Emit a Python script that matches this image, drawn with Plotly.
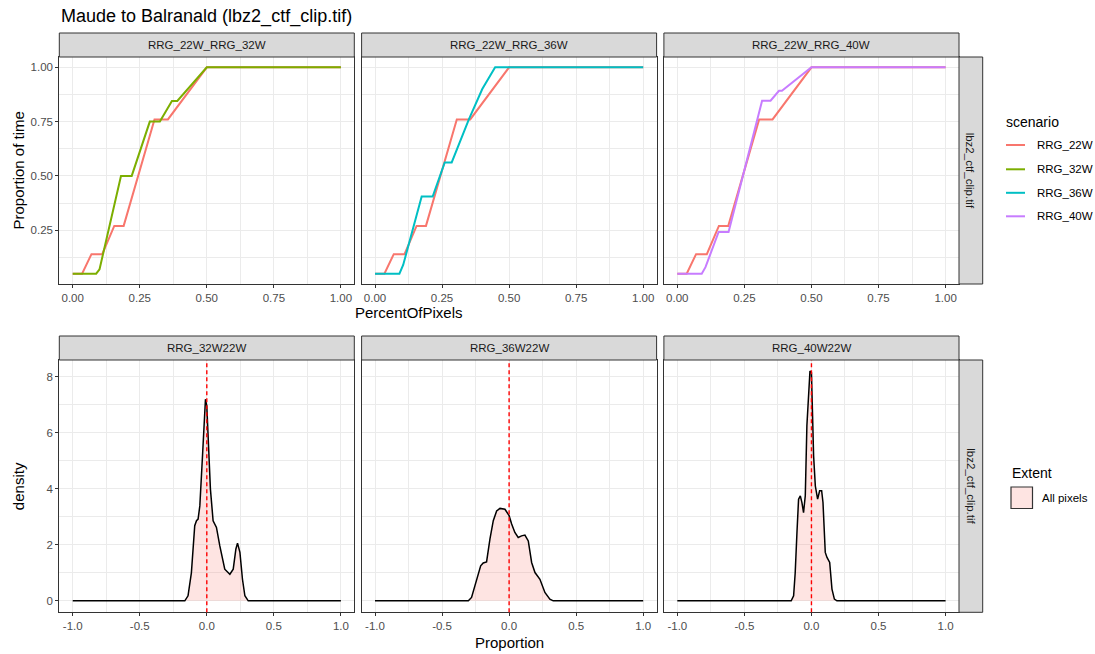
import plotly.graph_objects as go

# ---------------- data ----------------
title_text = "Maude to Balranald (lbz2_ctf_clip.tif)"
top_facets = ["RRG_22W_RRG_32W", "RRG_22W_RRG_36W", "RRG_22W_RRG_40W"]
bottom_facets = ["RRG_32W22W", "RRG_36W22W", "RRG_40W22W"]
row_strip = "lbz2_ctf_clip.tif"
scenarios = ["RRG_22W", "RRG_32W", "RRG_36W", "RRG_40W"]
scenario_colors = ["#F8766D", "#7CAE00", "#00BFC4", "#C77CFF"]

# cumulative curves: PercentOfPixels vs Proportion of time
x_22W = [0.0, 0.035, 0.07, 0.11, 0.155, 0.19, 0.305, 0.355, 0.5, 1.0]
y_22W = [0.05, 0.05, 0.14, 0.14, 0.27, 0.27, 0.76, 0.76, 1.0, 1.0]

x_32W = [0.0, 0.0875, 0.1, 0.18, 0.22, 0.2875, 0.325, 0.37, 0.39, 0.5, 1.0]
y_32W = [0.05, 0.05, 0.07, 0.5, 0.5, 0.75, 0.75, 0.845, 0.845, 1.0, 1.0]

x_36W = [0.0, 0.091, 0.105, 0.174, 0.215, 0.26, 0.286, 0.35, 0.40, 0.448, 1.0]
y_36W = [0.05, 0.05, 0.09, 0.405, 0.405, 0.562, 0.562, 0.76, 0.9, 1.0, 1.0]

x_40W = [0.0, 0.091, 0.105, 0.154, 0.191, 0.316, 0.3475, 0.379, 0.39, 0.5, 1.0]
y_40W = [0.05, 0.05, 0.08, 0.242, 0.242, 0.846, 0.846, 0.892, 0.892, 1.0, 1.0]

# densities of Proportion differences
dx_32W22W = [-1.0, -0.164, -0.14, -0.115, -0.09, -0.077, -0.065, -0.052, -0.032, -0.02, -0.01,
             0.0, 0.015, 0.027, 0.047, 0.072, 0.097, 0.134, 0.172, 0.197, 0.217, 0.229,
             0.247, 0.266, 0.284, 0.309, 1.0]
dy_32W22W = [0, 0, 0.18, 1.0, 2.68, 2.86, 2.92, 3.39, 5.18, 6.49, 7.2,
             6.96, 5.54, 3.99, 2.86, 2.62, 1.96, 1.13, 0.95, 1.13, 1.85, 2.06,
             1.73, 0.77, 0.18, 0, 0]

dx_36W22W = [-1.0, -0.304, -0.28, -0.242, -0.212, -0.193, -0.168, -0.143, -0.118, -0.093,
             -0.068, -0.031, 0.0, 0.019, 0.043, 0.068, 0.093, 0.118, 0.143, 0.168, 0.193,
             0.23, 0.267, 0.304, 0.329, 1.0]
dy_36W22W = [0, 0, 0.12, 0.77, 1.25, 1.35, 1.39, 2.2, 2.86, 3.21,
             3.30, 3.27, 3.04, 2.74, 2.44, 2.26, 2.32, 2.35, 2.14, 1.37, 1.01,
             0.77, 0.30, 0.06, 0, 0]

dx_40W22W = [-1.0, -0.151, -0.133, -0.121, -0.108, -0.096, -0.083, -0.071, -0.059, -0.046,
             -0.034, -0.021, -0.011, 0.0, 0.007, 0.016, 0.029, 0.046, 0.061, 0.076, 0.086,
             0.103, 0.116, 0.136, 0.153, 0.171, 0.19, 1.0]
dy_40W22W = [0, 0, 0.18, 1.01, 2.44, 3.63, 3.75, 3.51, 3.15, 3.75,
             6.25, 7.56, 8.21, 8.15, 6.96, 5.18, 4.1, 3.63, 3.93, 3.93, 3.51,
             1.73, 1.55, 1.37, 0.42, 0.06, 0, 0]

vline_x = 0.0
extent_label = "All pixels"

# ---------------- layout helpers ----------------
W, H = 1095, 654
def fx(p):
    return p / W
def fy(p):
    return 1 - p / H

cols = [(59.3, 354.3), (361.6, 656.6), (663.9, 959.0)]
rows = [(57.0, 284.0), (360.0, 612.3)]
strip_h = 24.0
rstrip = (959.0, 982.7)

FONT = "Liberation Sans, Arial, sans-serif"
GRID = "#EBEBEB"
BORDER = "#333333"
TICKC = "#4D4D4D"
SMALL = 11.5

fig = go.Figure()

top_series = [(x_32W, y_32W, 1), (x_36W, y_36W, 2), (x_40W, y_40W, 3)]
for i, (xs, ys, ci) in enumerate(top_series):
    ax = "" if i == 0 else str(i + 1)
    fig.add_trace(go.Scatter(x=x_22W, y=y_22W, mode="lines", xaxis="x" + ax, yaxis="y" + ax,
                             line=dict(color=scenario_colors[0], width=2), showlegend=False,
                             hoverinfo="skip"))
    fig.add_trace(go.Scatter(x=xs, y=ys, mode="lines", xaxis="x" + ax, yaxis="y" + ax,
                             line=dict(color=scenario_colors[ci], width=2), showlegend=False,
                             hoverinfo="skip"))

dens = [(dx_32W22W, dy_32W22W), (dx_36W22W, dy_36W22W), (dx_40W22W, dy_40W22W)]
for i, (xs, ys) in enumerate(dens):
    ax = str(i + 4)
    fig.add_trace(go.Scatter(x=xs, y=ys, mode="lines", xaxis="x" + ax, yaxis="y" + ax,
                             fill="tozeroy", fillcolor="rgba(248,118,109,0.2)",
                             line=dict(color="black", width=1.5), showlegend=False,
                             hoverinfo="skip"))

layout = dict(
    width=W, height=H, margin=dict(l=0, r=0, t=0, b=0),
    paper_bgcolor="white", plot_bgcolor="white",
    font=dict(family=FONT, color="#1A1A1A"),
    showlegend=False,
)

def xaxis_common(rng, dtick, mdtick, anchor, dom):
    return dict(domain=[fx(dom[0]), fx(dom[1])], range=rng, anchor=anchor,
                tick0=0, dtick=dtick,
                showgrid=True, gridcolor=GRID, gridwidth=1,
                minor=dict(dtick=mdtick, tick0=0, showgrid=True, gridcolor=GRID, gridwidth=0.6),
                showline=True, mirror=True, linecolor=BORDER, linewidth=1,
                ticks="outside", ticklen=3, tickwidth=1, tickcolor=BORDER,
                tickfont=dict(family=FONT, size=SMALL, color=TICKC),
                zeroline=False, fixedrange=True)

def yaxis_common(rng, tickvals, ticktext, mdtick, anchor, dom, show):
    d = dict(domain=[fy(dom[1]), fy(dom[0])], range=rng, anchor=anchor,
             tickvals=tickvals, ticktext=ticktext,
             showgrid=True, gridcolor=GRID, gridwidth=1,
             minor=dict(dtick=mdtick, tick0=0, showgrid=True, gridcolor=GRID, gridwidth=0.6),
             showline=True, mirror=True, linecolor=BORDER, linewidth=1,
             zeroline=False, fixedrange=True,
             tickfont=dict(family=FONT, size=SMALL, color=TICKC))
    if show:
        d.update(ticks="outside", ticklen=3, tickwidth=1, tickcolor=BORDER, showticklabels=True)
    else:
        d.update(ticks="", showticklabels=False)
    return d

top_ticks = [0.25, 0.5, 0.75, 1.0]
top_ticktext = ["0.25", "0.50", "0.75", "1.00"]
top_xticks = [0.0, 0.25, 0.5, 0.75, 1.0]
bot_ticks = [0, 2, 4, 6, 8]

for i in range(3):
    n = i + 1
    xk = "xaxis" if n == 1 else "xaxis%d" % n
    yk = "yaxis" if n == 1 else "yaxis%d" % n
    xa = xaxis_common([-0.05, 1.05], 0.25, 0.125, "y" if n == 1 else "y%d" % n, cols[i])
    xa.update(tickvals=top_xticks, ticktext=["0.00", "0.25", "0.50", "0.75", "1.00"])
    layout[xk] = xa
    layout[yk] = yaxis_common([0.0025, 1.0475], top_ticks, top_ticktext, 0.125,
                              "x" if n == 1 else "x%d" % n, rows[0], i == 0)
for i in range(3):
    n = i + 4
    xa = xaxis_common([-1.1, 1.1], 0.5, 0.25, "y%d" % n, cols[i])
    xa.update(tickvals=[-1.0, -0.5, 0.0, 0.5, 1.0], ticktext=["-1.0", "-0.5", "0.0", "0.5", "1.0"])
    layout["xaxis%d" % n] = xa
    layout["yaxis%d" % n] = yaxis_common([-0.41, 8.6], bot_ticks, [str(t) for t in bot_ticks], 1,
                                         "x%d" % n, rows[1], i == 0)

fig.update_layout(**layout)

shapes = []
annotations = []

# strips
for r, labels in enumerate([top_facets, bottom_facets]):
    y0, y1 = rows[r]
    for i, lab in enumerate(labels):
        x0, x1 = cols[i]
        shapes.append(dict(type="rect", xref="paper", yref="paper",
                           x0=fx(x0), x1=fx(x1), y0=fy(y0 - strip_h), y1=fy(y0),
                           fillcolor="#D9D9D9", line=dict(color=BORDER, width=1), layer="above"))
        annotations.append(dict(text=lab, xref="paper", yref="paper",
                                x=fx((x0 + x1) / 2), y=fy(y0 - strip_h / 2),
                                showarrow=False, xanchor="center", yanchor="middle",
                                font=dict(family=FONT, size=SMALL, color="#1A1A1A")))
    shapes.append(dict(type="rect", xref="paper", yref="paper",
                       x0=fx(rstrip[0]), x1=fx(rstrip[1]), y0=fy(y1), y1=fy(y0),
                       fillcolor="#D9D9D9", line=dict(color=BORDER, width=1), layer="above"))
    annotations.append(dict(text=row_strip, xref="paper", yref="paper",
                            x=fx((rstrip[0] + rstrip[1]) / 2), y=fy((y0 + y1) / 2),
                            showarrow=False, textangle=90, xanchor="center", yanchor="middle",
                            font=dict(family=FONT, size=SMALL, color="#1A1A1A")))

# vertical dashed reference lines
for i in range(3):
    n = i + 4
    shapes.append(dict(type="line", xref="x%d" % n, yref="y%d domain" % n,
                       x0=vline_x, x1=vline_x, y0=0, y1=1,
                       line=dict(color="#FF0000", width=1.4, dash="4px,3px"), layer="above"))

# title and axis titles
annotations.append(dict(text=title_text, xref="paper", yref="paper", x=fx(59), y=fy(17),
                        showarrow=False, xanchor="left", yanchor="middle",
                        font=dict(family=FONT, size=18, color="#000000")))
annotations.append(dict(text="Proportion of time", xref="paper", yref="paper", x=fx(18),
                        y=fy((rows[0][0] + rows[0][1]) / 2), showarrow=False, textangle=-90,
                        xanchor="center", yanchor="middle",
                        font=dict(family=FONT, size=15, color="#000000")))
annotations.append(dict(text="density", xref="paper", yref="paper", x=fx(18),
                        y=fy((rows[1][0] + rows[1][1]) / 2), showarrow=False, textangle=-90,
                        xanchor="center", yanchor="middle",
                        font=dict(family=FONT, size=15, color="#000000")))
annotations.append(dict(text="PercentOfPixels", xref="paper", yref="paper", x=fx(409),
                        y=fy(312), showarrow=False, xanchor="center", yanchor="middle",
                        font=dict(family=FONT, size=15, color="#000000")))
annotations.append(dict(text="Proportion", xref="paper", yref="paper", x=fx(509),
                        y=fy(642), showarrow=False, xanchor="center", yanchor="middle",
                        font=dict(family=FONT, size=15, color="#000000")))

# legend: scenario
annotations.append(dict(text="scenario", xref="paper", yref="paper", x=fx(1004), y=fy(122),
                        showarrow=False, xanchor="left", yanchor="middle",
                        font=dict(family=FONT, size=14, color="#000000")))
leg_y = [145, 169.3, 192.8, 216.3]
for k, (name, col) in enumerate(zip(scenarios, scenario_colors)):
    shapes.append(dict(type="line", xref="paper", yref="paper",
                       x0=fx(1006), x1=fx(1025), y0=fy(leg_y[k]), y1=fy(leg_y[k]),
                       line=dict(color=col, width=2)))
    annotations.append(dict(text=name, xref="paper", yref="paper", x=fx(1035), y=fy(leg_y[k]),
                            showarrow=False, xanchor="left", yanchor="middle",
                            font=dict(family=FONT, size=SMALL, color="#000000")))

# legend: Extent
annotations.append(dict(text="Extent", xref="paper", yref="paper", x=fx(1010), y=fy(473),
                        showarrow=False, xanchor="left", yanchor="middle",
                        font=dict(family=FONT, size=14, color="#000000")))
shapes.append(dict(type="rect", xref="paper", yref="paper",
                   x0=fx(1011), x1=fx(1032.5), y0=fy(508.5), y1=fy(487),
                   fillcolor="rgba(248,118,109,0.2)", line=dict(color="#333333", width=1.2)))
annotations.append(dict(text=extent_label, xref="paper", yref="paper", x=fx(1039.5), y=fy(498),
                        showarrow=False, xanchor="left", yanchor="middle",
                        font=dict(family=FONT, size=SMALL, color="#000000")))

fig.update_layout(shapes=shapes, annotations=annotations)
fig.write_html("out.html")
